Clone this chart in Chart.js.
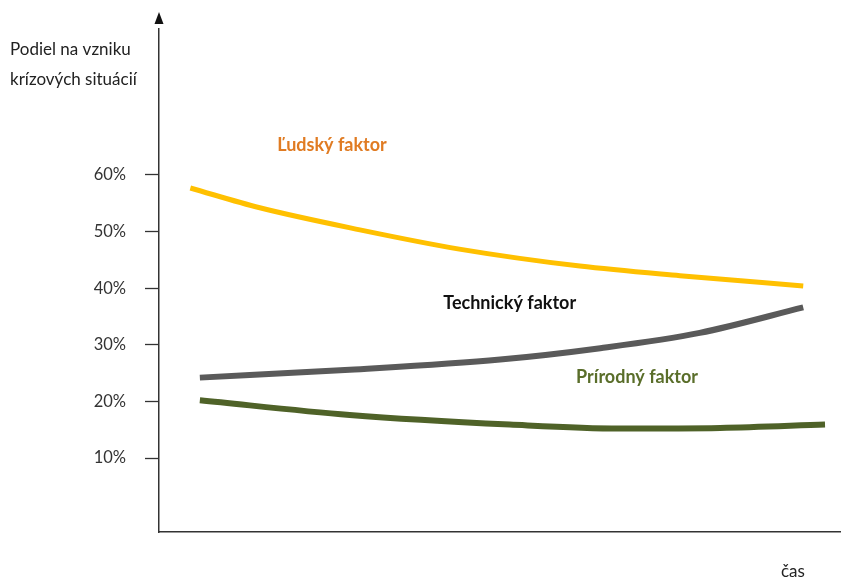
<!DOCTYPE html>
<html>
<head>
<meta charset="utf-8">
<script src="https://cdn.jsdelivr.net/npm/chart.js@4"></script>
<style>
  html, body { margin: 0; padding: 0; background: #fff; }
  #wrap { width: 841px; height: 581px; }
</style>
</head>
<body>
<div id="wrap"><canvas id="myChart" width="841" height="581"></canvas></div>
<script>
// data (x = time, 0..100; y = share in %)
var ludskyX = [4.6, 14.8, 29.5, 44.1, 61.8, 76.5, 94.6];
var ludskyY = [57.7, 54.2, 50.3, 46.9, 43.9, 42.2, 40.4];
var technickyX = [6.0, 28.0, 50.1, 64.8, 79.4, 94.6];
var technickyY = [24.2, 25.6, 27.4, 29.4, 32.1, 36.6];
var prirodnyX = [6.0, 28.0, 51.5, 67.7, 82.4, 97.8];
var prirodnyY = [20.2, 17.6, 15.9, 15.2, 15.3, 15.9];
var yTicks = [10, 20, 30, 40, 50, 60];

var FONT = 'Lato, "Open Sans", sans-serif';

function pts(xs, ys) {
  return xs.map(function (x, i) { return { x: x, y: ys[i] }; });
}

// arrow, axis title and series captions
var extras = {
  id: 'extras',
  afterDraw: function (chart) {
    var ctx = chart.ctx;
    var xs = chart.scales.x, ys = chart.scales.y;
    var ax = chart.chartArea.left;
    ctx.save();
    // arrow on the y axis
    ctx.fillStyle = '#111';
    ctx.beginPath();
    ctx.moveTo(ax, 12);
    ctx.lineTo(ax - 4.5, 24);
    ctx.lineTo(ax + 4.5, 24);
    ctx.closePath();
    ctx.fill();

    ctx.font = '17px ' + FONT;
    ctx.fillStyle = '#222';
    ctx.textAlign = 'left';
    ctx.textBaseline = 'middle';
    ctx.fillText('Podiel na vzniku', 10, 50);
    ctx.fillText('krízových situácií', 10, 80);
    ctx.fillText('čas', 781, 572);

    ctx.font = 'bold 18px ' + FONT;
    ctx.textAlign = 'center';
    ctx.fillStyle = '#E07B22';
    ctx.fillText('Ľudský faktor', xs.getPixelForValue(25.4), ys.getPixelForValue(65.2));
    ctx.fillStyle = '#111';
    ctx.fillText('Technický faktor', xs.getPixelForValue(51.5), ys.getPixelForValue(37.4));
    ctx.fillStyle = '#5A6E2A';
    ctx.fillText('Prírodný faktor', xs.getPixelForValue(70.2), ys.getPixelForValue(24.3));
    ctx.restore();
  }
};

var ctx = document.getElementById('myChart').getContext('2d');
var myChart = new Chart(ctx, {
  type: 'line',
  data: {
    datasets: [{
      label: 'Ľudský faktor',
      data: pts(ludskyX, ludskyY),
      borderColor: '#FFC000',
      borderWidth: 5,
      cubicInterpolationMode: 'monotone',
      pointRadius: 0
    }, {
      label: 'Technický faktor',
      data: pts(technickyX, technickyY),
      borderColor: '#5A5A5A',
      borderWidth: 6,
      cubicInterpolationMode: 'monotone',
      pointRadius: 0
    }, {
      label: 'Prírodný faktor',
      data: pts(prirodnyX, prirodnyY),
      borderColor: '#4F6228',
      borderWidth: 6,
      cubicInterpolationMode: 'monotone',
      pointRadius: 0
    }]
  },
  options: {
    responsive: false,
    animation: false,
    layout: { padding: { top: 22, right: 1, left: 0, bottom: 0 } },
    plugins: {
      legend: { display: false },
      tooltip: { enabled: false }
    },
    scales: {
      x: {
        type: 'linear',
        min: 0,
        max: 100,
        ticks: { display: false },
        grid: { display: false, drawTicks: false },
        border: { display: true, color: '#333', width: 1.5 },
        afterFit: function (scale) { scale.height = 49; }
      },
      y: {
        type: 'linear',
        min: -3.07,
        max: 85.8,
        afterBuildTicks: function (scale) {
          scale.ticks = yTicks.map(function (v) { return { value: v }; });
        },
        ticks: {
          callback: function (v) { return v + '%'; },
          color: '#333',
          font: { family: FONT, size: 16.5 },
          padding: 19
        },
        grid: {
          drawOnChartArea: false,
          drawTicks: true,
          tickLength: 14,
          tickColor: '#333',
          tickWidth: 1.3
        },
        border: { display: true, color: '#333', width: 1.5 },
        afterFit: function (scale) { scale.width = 159; }
      }
    }
  },
  plugins: [extras]
});
</script>
</body>
</html>
